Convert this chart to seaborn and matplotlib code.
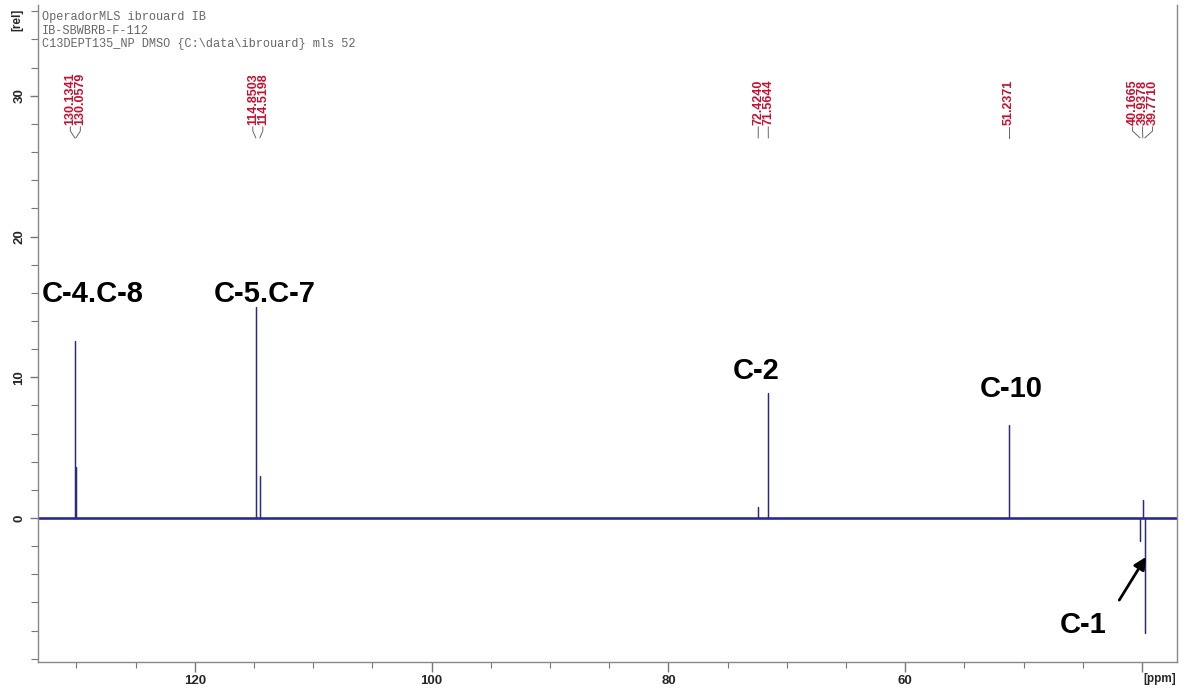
import matplotlib
matplotlib.use("Agg")
import matplotlib.pyplot as plt
from matplotlib.ticker import MultipleLocator
import pandas as pd
import seaborn as sns

# peak list (ppm, relative intensity)
peak_ppm = [130.1341, 130.0579, 114.8503, 114.5198, 72.4240, 71.5644,
            51.2371, 40.1665, 39.9378, 39.7710]
peak_int = [12.6, 3.6, 15.0, 3.0, 0.8, 8.9, 6.6, -1.6, 1.3, -8.2]

# red peak-pick label groups
label_groups = [
    ["130.1341", "130.0579"],
    ["114.8503", "114.5198"],
    ["72.4240", "71.5644"],
    ["51.2371"],
    ["40.1665", "39.9378", "39.7710"],
]

# carbon assignments
assign_text = ["C-4.C-8", "C-5.C-7", "C-2", "C-10", "C-1"]
assign_ppm = [128.6, 114.1, 72.6, 51.05, 45.0]
assign_y = [15.9, 15.9, 10.45, 9.2, -7.6]

x_ticks = [120, 100, 80, 60]
y_ticks = [0, 10, 20, 30]

header = ["OperadorMLS ibrouard IB",
          "IB-SBWBRB-F-112",
          "C13DEPT135_NP DMSO {C:\\data\\ibrouard} mls 52"]

x_lo, x_hi = 133.25, 37.05

# stick spectrum: baseline with each peak going up/down and back
rows = [(x_lo, 0.0)]
for p, h in sorted(zip(peak_ppm, peak_int), key=lambda t: -t[0]):
    rows += [(p, 0.0), (p, h), (p, 0.0)]
rows.append((x_hi, 0.0))
df = pd.DataFrame(rows, columns=["ppm", "intensity"])

sns.set_theme(style="white")
plt.rcParams["font.family"] = ["Liberation Sans", "DejaVu Sans"]

fig = plt.figure(figsize=(11.86, 6.89), dpi=100)
ax = fig.add_axes([38 / 1186, 1 - 662 / 689, (1177 - 38) / 1186, (662 - 5) / 689])

# baseline drawn a bit heavy to look like the noise band
ax.plot([x_lo, x_hi], [0, 0], color="#1f1fa8", lw=1.8, zorder=1)
sns.lineplot(data=df, x="ppm", y="intensity", sort=False, estimator=None,
             color="#2a2a80", lw=0.9, ax=ax, zorder=2)

ax.set_xlim(x_lo, x_hi)
ax.set_ylim(-10.23, 36.45)
ax.set_xlabel("")
ax.set_ylabel("")

ax.set_xticks(x_ticks + [40])
ax.set_xticklabels([str(t) for t in x_ticks] + [""])
ax.xaxis.set_minor_locator(MultipleLocator(5))
ax.set_yticks(y_ticks)
ax.set_yticklabels([str(t) for t in y_ticks])
ax.yaxis.set_minor_locator(MultipleLocator(2))
ax.tick_params(axis="both", which="both", direction="out", color="#777777",
               left=True, bottom=True)
ax.tick_params(axis="x", which="major", length=7, width=1, pad=2)
ax.tick_params(axis="x", which="minor", length=4, width=0.8)
ax.tick_params(axis="y", which="major", length=6, width=1, pad=3)
ax.tick_params(axis="y", which="minor", length=5, width=0.8)
for lab in ax.get_xticklabels():
    lab.set_fontweight("bold")
    lab.set_fontsize(9.5)
for lab in ax.get_yticklabels():
    lab.set_fontweight("bold")
    lab.set_fontsize(9.5)
    lab.set_rotation(90)
    lab.set_va("center")

for side in ["left", "bottom", "right"]:
    ax.spines[side].set_color("#888888")
    ax.spines[side].set_linewidth(1)
ax.spines["top"].set_visible(False)

fig.text(17 / 1186, 1 - 20 / 689, "[rel]", rotation=90, fontsize=8.5,
         fontweight="bold", ha="center", va="center")
fig.text(1160 / 1186, 1 - 679 / 689, "[ppm]", fontsize=8.5,
         fontweight="bold", ha="center", va="center")

for i, line in enumerate(header):
    fig.text(42 / 1186, 1 - (17 + 13.5 * i) / 689, line, fontsize=8.6,
             family="Liberation Mono", color="#666666", va="center")

# red peak labels with short connectors down to the peak positions
px_per_ppm = (1177 - 38) / (x_lo - x_hi)
step = 10 / px_per_ppm
idx = 0
for grp in label_groups:
    n = len(grp)
    ppms = peak_ppm[idx:idx + n]
    idx += n
    centre = sum(ppms) / n
    for j, txt in enumerate(grp):
        lx = centre - (j - (n - 1) / 2) * step
        ax.text(lx, 27.9, txt, rotation=90, fontsize=9, fontweight="bold",
                color="#c8102e", ha="center", va="bottom")
        ax.plot([lx, lx, ppms[j]], [27.8, 27.5, 27.0], color="#666666", lw=0.7)

for txt, xp, yp in zip(assign_text, assign_ppm, assign_y):
    ax.text(xp, yp, txt, fontsize=21, fontweight="bold", ha="center",
            va="center", color="black")

ax.annotate("", xy=(39.55, -2.6), xytext=(42.05, -6.0),
            arrowprops=dict(arrowstyle="-|>", color="black", lw=2,
                            mutation_scale=18))

fig.savefig("out.png", dpi=100)
